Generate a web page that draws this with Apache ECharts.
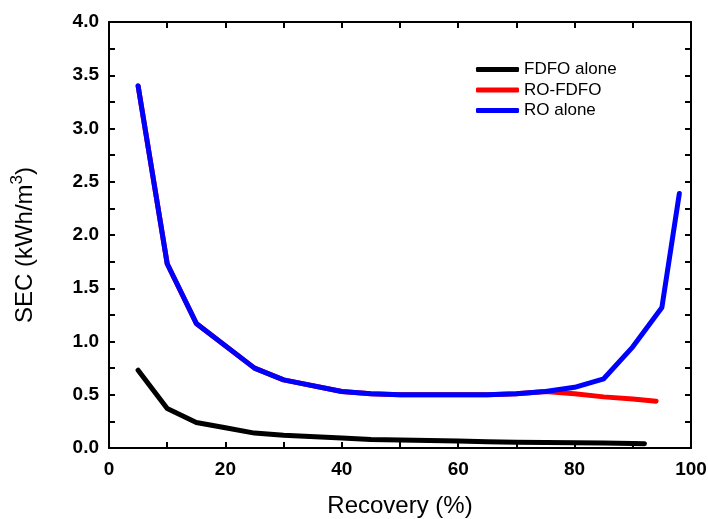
<!DOCTYPE html>
<html>
<head>
<meta charset="utf-8">
<script src="https://cdn.jsdelivr.net/npm/echarts@6/dist/echarts.min.js"></script>
<style>
  html, body { margin: 0; padding: 0; background: #fff; }
  #chart { width: 708px; height: 519px; }
</style>
</head>
<body>
<div id="chart"></div>
<script>
// Specific energy consumption versus recovery for three process configurations
const recoveryFdfo = [5, 10, 15, 20, 25, 30, 40, 45, 50, 60, 65, 70, 80, 85, 90, 92];
const secFdfo      = [0.73, 0.37, 0.24, 0.19, 0.14, 0.12, 0.095, 0.08, 0.075, 0.065, 0.058, 0.055, 0.05, 0.047, 0.042, 0.04];

const recoveryRoFdfo = [5, 10, 15, 25, 30, 40, 45, 50, 60, 65, 70, 75, 80, 85, 90, 94];
const secRoFdfo      = [3.4, 1.73, 1.17, 0.75, 0.64, 0.53, 0.51, 0.50, 0.50, 0.50, 0.51, 0.53, 0.51, 0.48, 0.46, 0.44];

const recoveryRo = [5, 10, 15, 25, 30, 40, 45, 50, 60, 65, 70, 75, 80, 85, 90, 95, 98];
const secRo      = [3.4, 1.73, 1.17, 0.75, 0.64, 0.53, 0.51, 0.50, 0.50, 0.50, 0.51, 0.53, 0.57, 0.65, 0.95, 1.32, 2.39];

const seriesNames = ['FDFO alone', 'RO-FDFO', 'RO alone'];
const seriesColors = ['#000000', '#ff0000', '#0000ff'];

const pairs = (xs, ys) => xs.map((x, i) => [x, ys[i]]);
const seriesData = [
  pairs(recoveryFdfo, secFdfo),
  pairs(recoveryRoFdfo, secRoFdfo),
  pairs(recoveryRo, secRo)
];

const chart = echarts.init(document.getElementById('chart'), null, { renderer: 'canvas' });

const FONT = 'Liberation Sans, Arial, sans-serif';
const tickFont = { fontFamily: FONT, fontWeight: 'bold', fontSize: 19, color: '#000' };
const axisLineStyle = { color: '#000', width: 2 };

// Boxed frame: every axis keeps its own edge and draws its ticks inward
function frameAxis(extra) {
  return Object.assign({
    axisLine: { show: true, onZero: false, lineStyle: axisLineStyle },
    axisTick: { show: true, inside: true, length: 6, lineStyle: axisLineStyle },
    minorTick: { show: true, splitNumber: 2, length: 6, lineStyle: { color: '#000', width: 2 } },
    splitLine: { show: false }
  }, extra);
}

chart.setOption({
  backgroundColor: '#fff',
  animation: false,
  grid: { left: 109, right: 17, top: 22, bottom: 71, containLabel: false, outerBoundsMode: 'none' },
  legend: {
    orient: 'vertical',
    left: 476,
    top: 61,
    padding: 0,
    itemWidth: 43,
    itemHeight: 5,
    itemGap: 3.5,
    icon: 'roundRect',
    textStyle: { fontFamily: FONT, fontSize: 17, color: '#000' },
    data: seriesNames
  },
  xAxis: [
    frameAxis({
      type: 'value', min: 0, max: 100, interval: 20,
      name: 'Recovery (%)', nameLocation: 'middle', nameGap: 46,
      nameTextStyle: { fontFamily: FONT, fontSize: 24, color: '#000' },
      axisLabel: Object.assign({ margin: 12 }, tickFont)
    }),
    frameAxis({
      type: 'value', min: 0, max: 100, interval: 20, position: 'top',
      axisLabel: { show: false }
    })
  ],
  yAxis: [
    frameAxis({
      type: 'value', min: 0, max: 4, interval: 0.5,
      name: '{a|SEC (kWh/m}{s|3}{a|)}', nameLocation: 'middle', nameGap: 68, nameRotate: 90,
      nameTextStyle: {
        padding: [0, 20, 0, 0],
        rich: {
          a: { fontFamily: FONT, fontSize: 24, color: '#000', lineHeight: 32 },
          s: { fontFamily: FONT, fontSize: 17, color: '#000', lineHeight: 17, verticalAlign: 'top' }
        }
      },
      axisLabel: Object.assign({ margin: 10, formatter: v => v.toFixed(1) }, tickFont)
    }),
    frameAxis({
      type: 'value', min: 0, max: 4, interval: 0.5, position: 'right',
      axisLabel: { show: false }
    })
  ],
  series: seriesNames.map((name, i) => ({
    name: name,
    type: 'line',
    xAxisIndex: 0,
    yAxisIndex: 0,
    data: seriesData[i],
    symbol: 'none',
    color: seriesColors[i],
    lineStyle: { color: seriesColors[i], width: 5, cap: 'round', join: 'round' },
    z: 2 + i
  }))
});
</script>
</body>
</html>
